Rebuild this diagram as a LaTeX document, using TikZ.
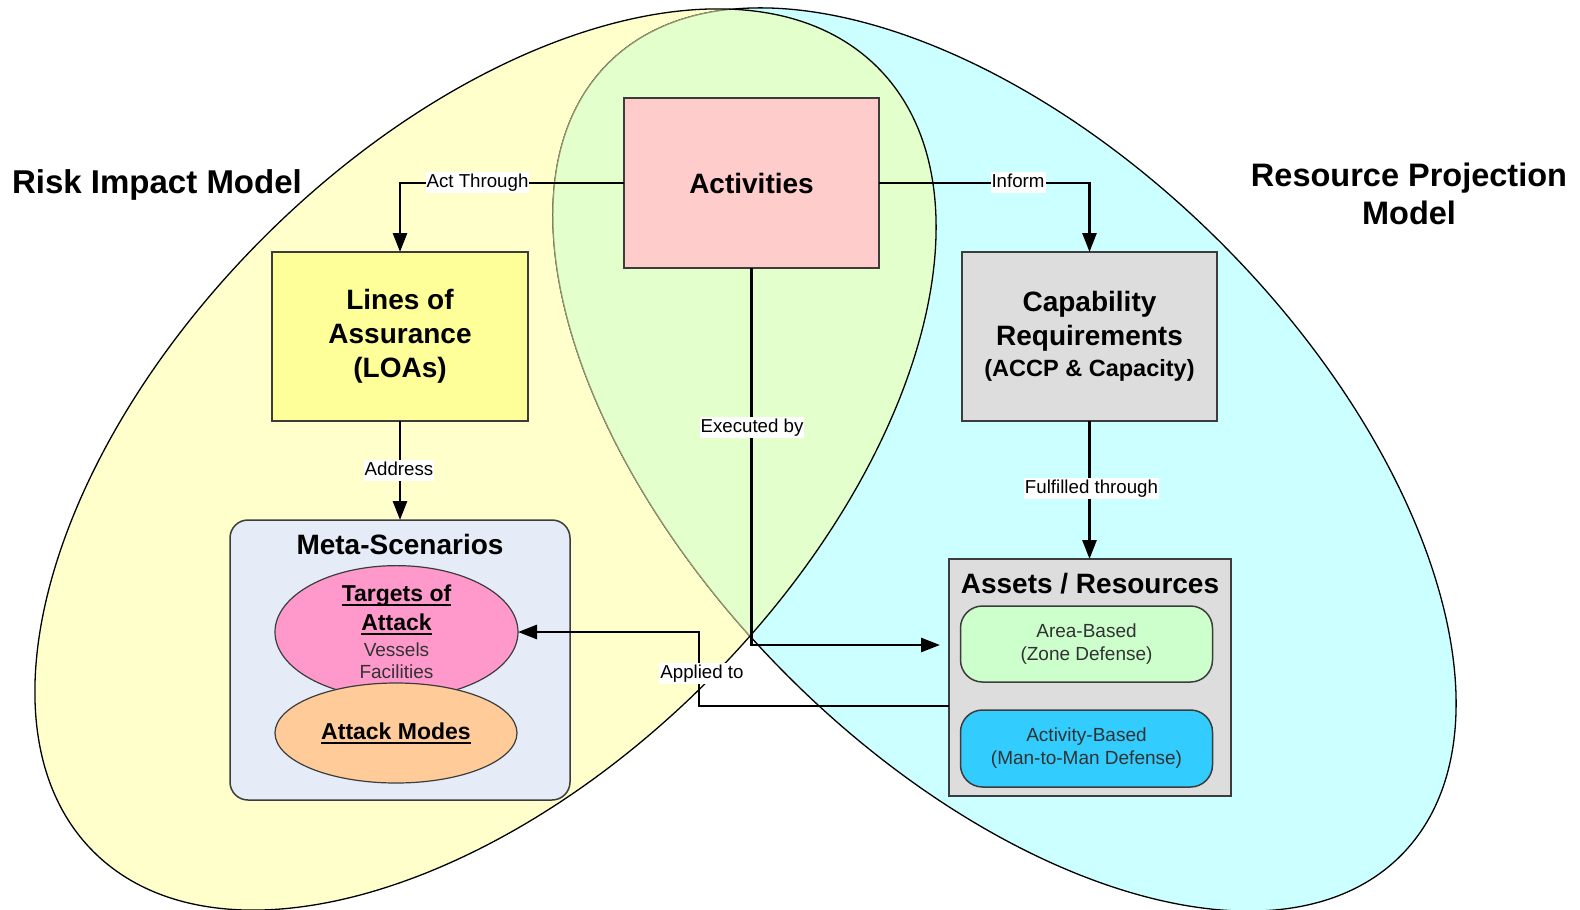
\documentclass[tikz,border=0pt]{standalone}
\usepackage{fontspec}
\setmainfont{Liberation Sans}
\usetikzlibrary{arrows.meta,shapes.geometric}

\definecolor{yell}{RGB}{255,255,204}
\definecolor{cyanc}{RGB}{204,255,255}
\definecolor{overl}{RGB}{226,255,204}
\definecolor{innerln}{RGB}{150,150,110}
\definecolor{actfill}{RGB}{255,204,204}
\definecolor{loafill}{RGB}{255,255,153}
\definecolor{grayfill}{RGB}{221,221,221}
\definecolor{metafill}{RGB}{229,236,247}
\definecolor{tgtfill}{RGB}{255,153,204}
\definecolor{atkfill}{RGB}{255,204,153}
\definecolor{areafill}{RGB}{204,255,204}
\definecolor{actbfill}{RGB}{51,204,255}
\definecolor{bord}{RGB}{60,60,60}
\definecolor{txtgray}{RGB}{50,50,50}

\newcommand\myul[1]{\setbox0\hbox{#1}\leavevmode\rlap{\rule[-4.5pt]{\wd0}{2pt}}\box0}

\tikzset{
  yelltf/.style={shift={(485.5,459.5)}, rotate=45},
  cyantf/.style={shift={(1004.5,459.5)}, rotate=-45},
  box/.style={draw=bord, line width=1.5pt, inner sep=0pt, outer sep=0pt, align=center},
  bigtxt/.style={font=\fontsize{28}{34}\selectfont\bfseries},
  smalltxt/.style={font=\fontsize{19}{23}\selectfont, text=txtgray},
  conn/.style={line width=2.8pt, -{Triangle[length=19pt,width=14pt]}},
  lbl/.style={fill=white, inner xsep=1pt, inner ysep=1.5pt, text height=14pt, text depth=4pt, font=\fontsize{18.7}{22}\selectfont},
  ttl/.style={font=\fontsize{33}{38}\selectfont\bfseries, inner sep=0pt, align=center},
  sub/.style={font=\fontsize{28}{34}\selectfont\bfseries, inner sep=0pt, anchor=base},
}

\begin{document}
\begin{tikzpicture}[x=1pt,y=-1pt]
\useasboundingbox (0,0) rectangle (1580,910);

% --- the two model regions ---
\fill[yell, yelltf] (0,0) ellipse [x radius=554.5pt, y radius=313.8pt];
\fill[cyanc, cyantf] (0,0) ellipse [x radius=560.3pt, y radius=306.3pt];
\draw[black, line width=1.3pt, cyantf] (0,0) ellipse [x radius=560.3pt, y radius=306.3pt];
\begin{scope}
  \clip[yelltf] (0,0) ellipse [x radius=554.5pt, y radius=313.8pt];
  \fill[overl, cyantf] (0,0) ellipse [x radius=560.3pt, y radius=306.3pt];
  \draw[innerln, line width=1.2pt, cyantf] (0,0) ellipse [x radius=560.3pt, y radius=306.3pt];
\end{scope}
\draw[black, line width=1.3pt, yelltf] (0,0) ellipse [x radius=554.5pt, y radius=313.8pt];

% --- titles ---
\node[ttl, anchor=base] (rim) at (157,193) {Risk Impact Model};
\node[ttl, font=\fontsize{32.5}{38}\selectfont\bfseries] (rpm) at (1409,194.3) {Resource Projection\\Model};

% --- boxes ---
\node[box, fill=actfill, minimum width=255pt, minimum height=170pt, bigtxt] (act) at (751.5,183) {Activities};
\node[box, fill=loafill, minimum width=256pt, minimum height=169pt, bigtxt] (loa) at (400,336.5) {Lines of\\Assurance\\(LOAs)};
\node[box, fill=grayfill, minimum width=255pt, minimum height=169pt, bigtxt] (cap) at (1089.5,336.5)
  {Capability\\Requirements\\[-3pt]{\fontsize{23.5}{28}\selectfont (ACCP \& Capacity)}};

\node[box, fill=metafill, rounded corners=18pt, minimum width=340pt, minimum height=280pt] (meta) at (400,660) {};
\node[sub] (metat) at (400,554) {Meta-Scenarios};
\node[box, ellipse, line width=1.2pt, fill=tgtfill, minimum width=243pt, minimum height=111pt,
      font=\fontsize{19}{22}\selectfont] (tgt) at (396.5,632)
  {{\fontsize{23}{28}\selectfont\bfseries\myul{Targets of}}\\[7pt]{\fontsize{23}{28}\selectfont\bfseries\myul{Attack}}\\[4pt]{\color{txtgray}Vessels}\\{\color{txtgray}Facilities}};
\node[box, ellipse, line width=1.2pt, fill=atkfill, minimum width=242pt, minimum height=100pt,
      font=\fontsize{23}{28}\selectfont\bfseries] (atk) at (396,733) {\myul{Attack Modes}};

\node[box, fill=grayfill, minimum width=282pt, minimum height=237pt] (assets) at (1090,677.5) {};
\node[sub] (assetst) at (1090,593) {Assets / Resources};
\node[box, rounded corners=22pt, fill=areafill, minimum width=252pt, minimum height=76pt, smalltxt] (area) at (1086.5,644) {Area-Based\\(Zone Defense)};
\node[box, rounded corners=22pt, fill=actbfill, minimum width=252pt, minimum height=77pt, smalltxt] (actb) at (1086.5,748.5) {Activity-Based\\(Man-to-Man Defense)};

% --- connectors ---
\coordinate (exeend) at (940,645);
\coordinate (appy) at (0,706);
\coordinate (appbend) at (699,632);
\draw[conn] (act.west) -| (loa.north);
\draw[conn] (act.east) -| (cap.north);
\draw[conn] (loa.south) -- (meta.north);
\draw[conn] (cap.south) -- (cap.south |- assets.north);
\draw[conn] (act.south) |- (exeend);
\draw[conn] (assets.west |- appy) -| (appbend) -- (tgt.east);

% --- connector labels ---
\node[lbl] (lact) at (477.5,182) {Act Through};
\node[lbl] (linf) at (1018,182) {Inform};
\node[lbl] (ladd) at (399,470) {Address};
\node[lbl] (lexe) at (752,427) {Executed by};
\node[lbl] (lful) at (1091.5,488) {Fulfilled through};
\node[lbl] (lapp) at (702,673) {Applied to};
\end{tikzpicture}
\end{document}
